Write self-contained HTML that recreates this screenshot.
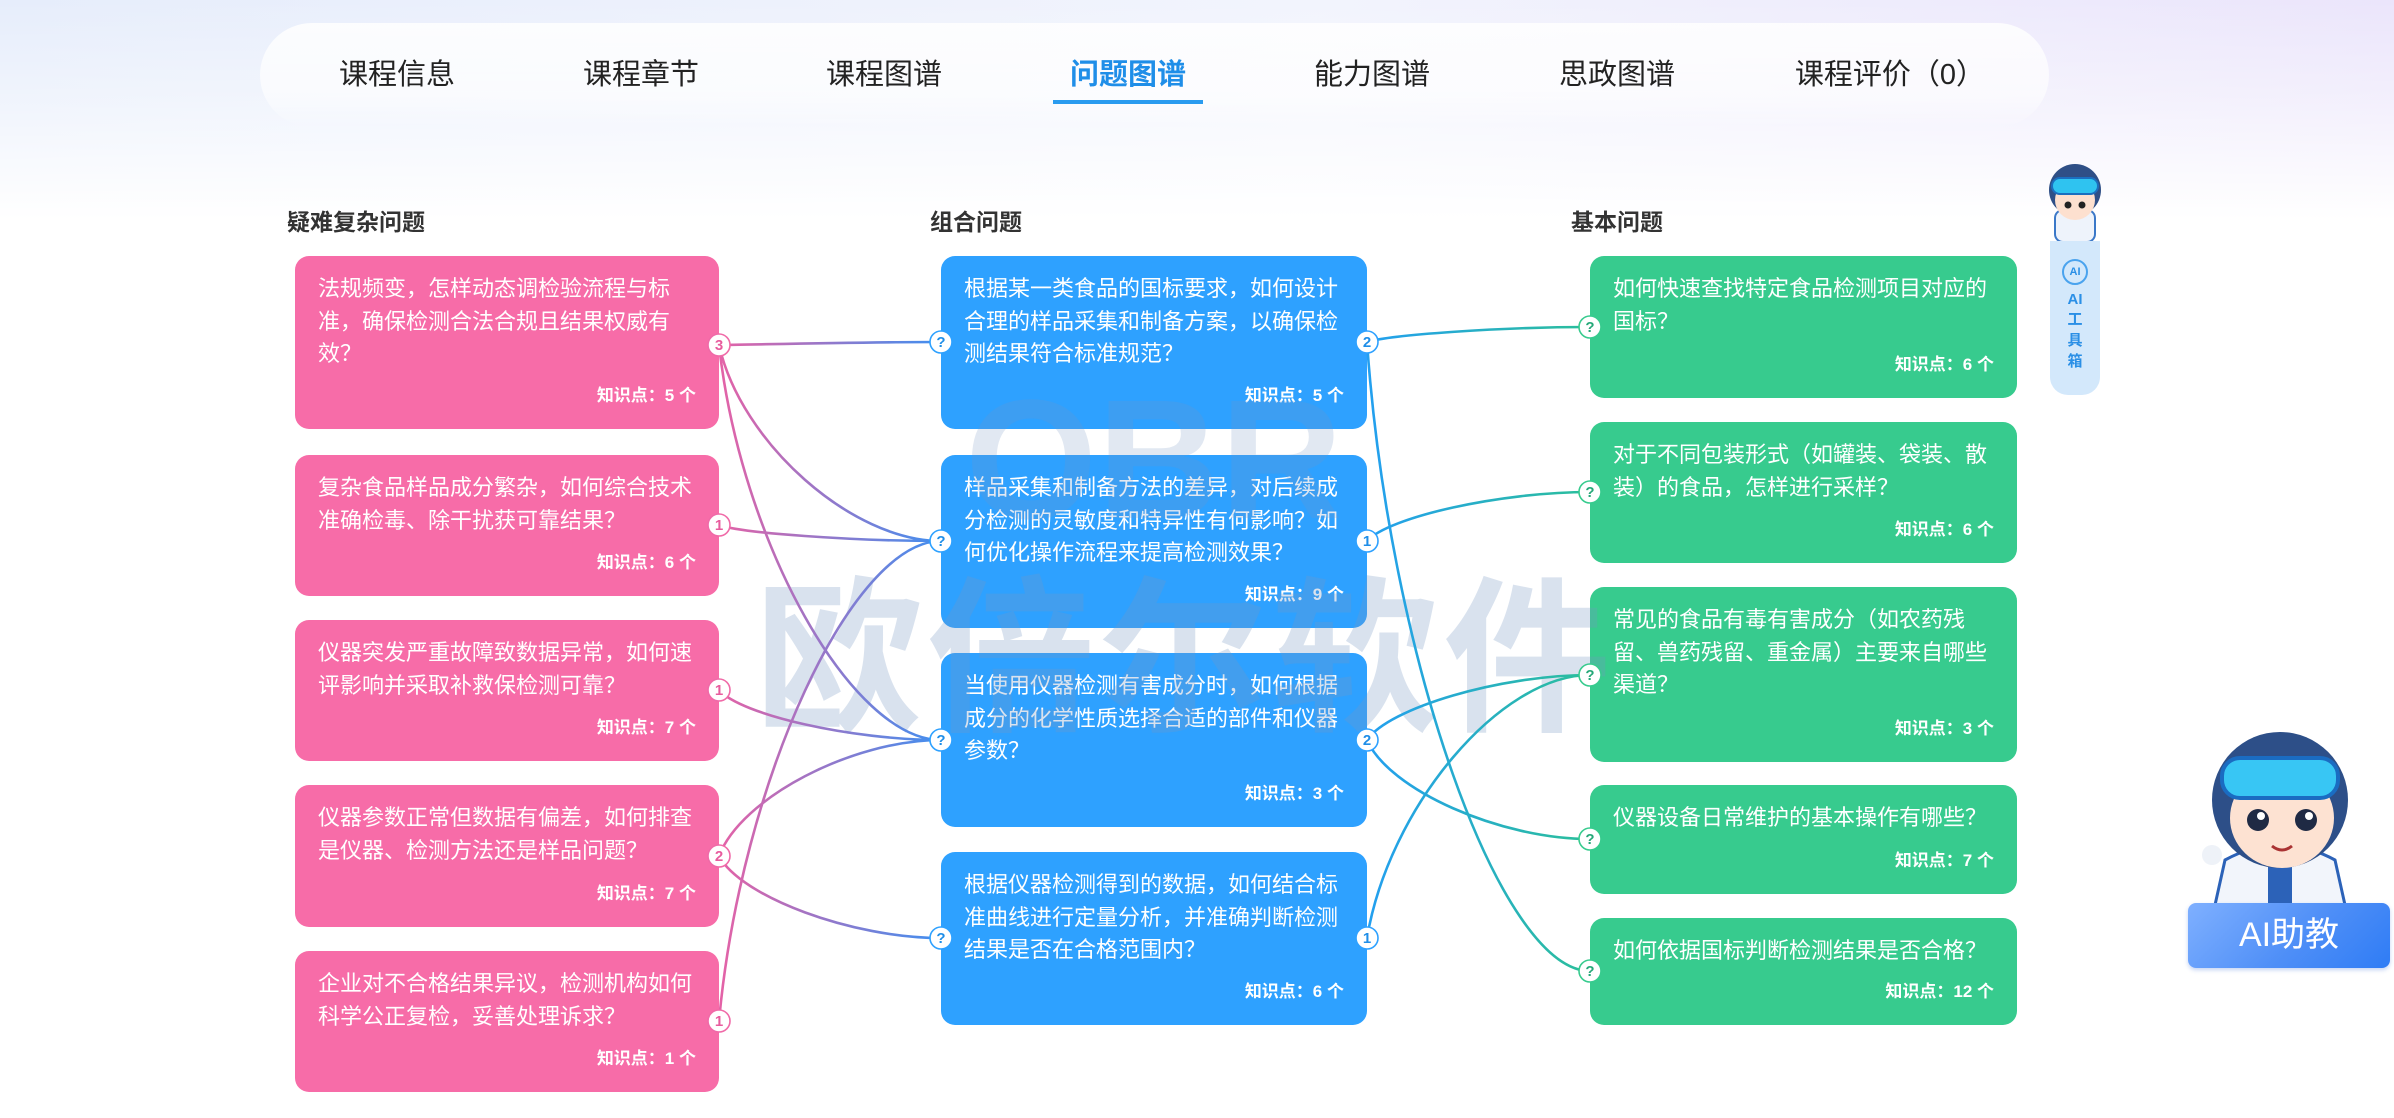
<!DOCTYPE html>
<html><head><meta charset="utf-8"><style>
*{margin:0;padding:0;box-sizing:border-box}
body{width:2394px;height:1118px;position:relative;overflow:hidden;background:#fff;font-family:"Liberation Sans","Noto Sans CJK SC",sans-serif}
.bg{position:absolute;left:0;top:0;width:2394px;height:220px;background:linear-gradient(180deg,rgba(255,255,255,0) 0%,rgba(255,255,255,.4) 45%,#fff 100%),linear-gradient(90deg,#e6edfb 0%,#f2f4fd 55%,#ebe5fb 100%)}
.nav{position:absolute;left:260px;top:23px;width:1789px;height:104px;border-radius:52px;background:linear-gradient(180deg,rgba(255,255,255,.85),rgba(255,255,255,.6) 70%,rgba(255,255,255,0))}
.tab{position:absolute;top:56px;font-size:29px;color:#222;line-height:38px;white-space:nowrap;transform:translateX(-50%)}
.tab.a{color:#1f8ee8;font-weight:bold}
.ul{position:absolute;left:1053px;top:100px;width:150px;height:4px;background:#2a9bef}
.hd{position:absolute;top:207px;font-size:23px;font-weight:bold;color:#333;line-height:30px}
.box{position:absolute;border-radius:14px;color:#fff;padding:17px 23px 0 23px;font-size:22px;line-height:32.5px;white-space:nowrap}
.p{left:295px;width:424px;background:#f76ca8}
.b{left:941px;width:426px;background:#2ea1ff}
.g{left:1590px;width:427px;background:#37cb8e}
.k{position:absolute;right:23px;bottom:21px;font-size:17px;font-weight:bold;line-height:24px}
.wm{position:absolute;left:755px;top:560px;font-size:168px;font-weight:bold;color:rgba(120,150,195,.28);letter-spacing:4px;white-space:nowrap;line-height:200px}
.wm2{position:absolute;left:965px;top:360px;font-size:170px;font-weight:bold;color:rgba(120,150,195,.22);white-space:nowrap;line-height:200px}
.tool{position:absolute;left:2050px;top:241px;width:50px;height:154px;border-radius:0 0 18px 18px;background:#d3e8fb;color:#2a8fe6;font-size:15px;font-weight:bold;text-align:center}
.ai{position:absolute;left:2188px;top:903px;width:202px;height:65px;border-radius:8px;background:linear-gradient(135deg,#7fb0ff,#4f8ff7 55%,#2f7cf5);color:#fff;font-size:34px;text-align:center;line-height:65px;box-shadow:0 2px 4px rgba(60,110,220,.3)}
</style></head><body>
<div class="bg"></div>
<div class="nav"></div>
<div class="tab" style="left:397px">课程信息</div>
<div class="tab" style="left:641px">课程章节</div>
<div class="tab" style="left:884px">课程图谱</div>
<div class="tab a" style="left:1128px">问题图谱</div>
<div class="tab" style="left:1372px">能力图谱</div>
<div class="tab" style="left:1617px">思政图谱</div>
<div class="tab" style="left:1890px">课程评价（0）</div>
<div class="ul"></div>

<div class="hd" style="left:287px">疑难复杂问题</div>
<div class="hd" style="left:930px">组合问题</div>
<div class="hd" style="left:1571px">基本问题</div>

<div class="box p" style="top:256px;height:173px">法规频变，怎样动态调检验流程与标<br>准，确保检测合法合规且结果权威有<br>效？<div class="k">知识点：5 个</div></div>
<div class="box p" style="top:455px;height:141px">复杂食品样品成分繁杂，如何综合技术<br>准确检毒、除干扰获可靠结果？<div class="k">知识点：6 个</div></div>
<div class="box p" style="top:620px;height:141px">仪器突发严重故障致数据异常，如何速<br>评影响并采取补救保检测可靠？<div class="k">知识点：7 个</div></div>
<div class="box p" style="top:785px;height:142px">仪器参数正常但数据有偏差，如何排查<br>是仪器、检测方法还是样品问题？<div class="k">知识点：7 个</div></div>
<div class="box p" style="top:951px;height:141px">企业对不合格结果异议，检测机构如何<br>科学公正复检，妥善处理诉求？<div class="k">知识点：1 个</div></div>

<div class="box b" style="top:256px;height:173px">根据某一类食品的国标要求，如何设计<br>合理的样品采集和制备方案，以确保检<br>测结果符合标准规范？<div class="k">知识点：5 个</div></div>
<div class="box b" style="top:455px;height:173px">样品采集和制备方法的差异，对后续成<br>分检测的灵敏度和特异性有何影响？如<br>何优化操作流程来提高检测效果？<div class="k">知识点：9 个</div></div>
<div class="box b" style="top:653px;height:174px">当使用仪器检测有害成分时，如何根据<br>成分的化学性质选择合适的部件和仪器<br>参数？<div class="k">知识点：3 个</div></div>
<div class="box b" style="top:852px;height:173px">根据仪器检测得到的数据，如何结合标<br>准曲线进行定量分析，并准确判断检测<br>结果是否在合格范围内？<div class="k">知识点：6 个</div></div>

<div class="box g" style="top:256px;height:142px">如何快速查找特定食品检测项目对应的<br>国标？<div class="k">知识点：6 个</div></div>
<div class="box g" style="top:422px;height:141px">对于不同包装形式（如罐装、袋装、散<br>装）的食品，怎样进行采样？<div class="k">知识点：6 个</div></div>
<div class="box g" style="top:587px;height:175px">常见的食品有毒有害成分（如农药残<br>留、兽药残留、重金属）主要来自哪些<br>渠道？<div class="k">知识点：3 个</div></div>
<div class="box g" style="top:785px;height:109px">仪器设备日常维护的基本操作有哪些？<div class="k">知识点：7 个</div></div>
<div class="box g" style="top:918px;height:107px">如何依据国标判断检测结果是否合格？<div class="k">知识点：12 个</div></div>

<div class="wm2">OBR</div>
<div class="wm">欧倍尔软件</div>

<svg width="2394" height="1118" style="position:absolute;left:0;top:0">
<defs>
<linearGradient id="pb" gradientUnits="userSpaceOnUse" x1="719" y1="0" x2="941" y2="0"><stop offset="0" stop-color="#e562a6"/><stop offset="1" stop-color="#3f8ff0"/></linearGradient>
<linearGradient id="bg" gradientUnits="userSpaceOnUse" x1="1367" y1="0" x2="1590" y2="0"><stop offset="0" stop-color="#239ff0"/><stop offset="1" stop-color="#2bbf9a"/></linearGradient>
</defs>
<g fill="none" stroke="url(#pb)" stroke-width="2.6">
<path d="M719,345 C741,345 852,342 941,342"/>
<path d="M719,345 C741,443 852,541 941,541"/>
<path d="M719,345 C741,543 852,740 941,740"/>
<path d="M719,525 C741,533 852,541 941,541"/>
<path d="M719,690 C741,715 852,740 941,740"/>
<path d="M719,856 C741,798 852,740 941,740"/>
<path d="M719,856 C741,897 852,938 941,938"/>
<path d="M719,1021 C741,781 852,541 941,541"/>
</g>
<g fill="none" stroke="url(#bg)" stroke-width="2.6">
<path d="M1367,342 C1389,335 1500,327 1590,327"/>
<path d="M1367,342 C1389,657 1500,971 1590,971"/>
<path d="M1367,541 C1389,517 1500,492 1590,492"/>
<path d="M1367,740 C1389,708 1500,675 1590,675"/>
<path d="M1367,740 C1389,790 1500,839 1590,839"/>
<path d="M1367,938 C1389,807 1500,675 1590,675"/>
</g>
<g font-family="Liberation Sans,sans-serif" font-size="15" font-weight="bold" text-anchor="middle">
<g fill="#fff" stroke="#f06aa8" stroke-width="1.6">
<circle cx="719" cy="345" r="11"/><circle cx="719" cy="525" r="11"/><circle cx="719" cy="690" r="11"/><circle cx="719" cy="856" r="11"/><circle cx="719" cy="1021" r="11"/></g>
<g fill="#e85c9e"><text x="719" y="350">3</text><text x="719" y="530">1</text><text x="719" y="695">1</text><text x="719" y="861">2</text><text x="719" y="1026">1</text></g>
<g fill="#fff" stroke="#2ea1ff" stroke-width="1.6">
<circle cx="941" cy="342" r="11"/><circle cx="941" cy="541" r="11"/><circle cx="941" cy="740" r="11"/><circle cx="941" cy="938" r="11"/>
<circle cx="1367" cy="342" r="11"/><circle cx="1367" cy="541" r="11"/><circle cx="1367" cy="740" r="11"/><circle cx="1367" cy="938" r="11"/></g>
<g fill="#1f8ee8"><text x="941" y="347">?</text><text x="941" y="546">?</text><text x="941" y="745">?</text><text x="941" y="943">?</text>
<text x="1367" y="347">2</text><text x="1367" y="546">1</text><text x="1367" y="745">2</text><text x="1367" y="943">1</text></g>
<g fill="#fff" stroke="#37cb8e" stroke-width="1.6">
<circle cx="1590" cy="327" r="11"/><circle cx="1590" cy="492" r="11"/><circle cx="1590" cy="675" r="11"/><circle cx="1590" cy="839" r="11"/><circle cx="1590" cy="971" r="11"/></g>
<g fill="#25a878"><text x="1590" y="332">?</text><text x="1590" y="497">?</text><text x="1590" y="680">?</text><text x="1590" y="844">?</text><text x="1590" y="976">?</text></g>
</g>
<g>
<rect x="2055" y="210" width="40" height="32" rx="8" fill="#eef3fb" stroke="#3b78c8" stroke-width="2"/>
<circle cx="2075" cy="190" r="26" fill="#2f4f86"/>
<circle cx="2075" cy="200" r="20" fill="#fde0cf"/>
<rect x="2052" y="178" width="46" height="16" rx="8" fill="#2fc3f0" stroke="#1b6fbf" stroke-width="2"/>
<circle cx="2068" cy="205" r="3.5" fill="#222"/><circle cx="2082" cy="205" r="3.5" fill="#222"/>
</g>
<g>
<path d="M2215,905 L2225,860 Q2280,830 2335,860 L2345,905 Z" fill="#f2f5fb" stroke="#2c62b8" stroke-width="3"/>
<rect x="2268" y="860" width="24" height="45" fill="#2c62b8"/>
<circle cx="2280" cy="800" r="68" fill="#2d4f88"/>
<ellipse cx="2282" cy="818" rx="52" ry="50" fill="#fde2d2"/>
<rect x="2222" y="758" width="116" height="40" rx="18" fill="#38c6f4" stroke="#1a6cc2" stroke-width="4"/>
<circle cx="2258" cy="820" r="11" fill="#1f2a44"/><circle cx="2306" cy="820" r="11" fill="#1f2a44"/>
<circle cx="2261" cy="816" r="4" fill="#fff"/><circle cx="2309" cy="816" r="4" fill="#fff"/>
<path d="M2272,846 Q2282,854 2292,846" stroke="#a33" stroke-width="3" fill="none"/>
<circle cx="2212" cy="855" r="10" fill="#eef2f8"/>
</g>
</svg>

<div class="tool"><div style="margin:18px auto 6px;width:26px;height:26px;border:2px solid #4aa3ee;border-radius:50%;font-size:11px;line-height:22px">AI</div>AI<br>工<br>具<br>箱</div>
<div class="ai">AI助教</div>
</body></html>
